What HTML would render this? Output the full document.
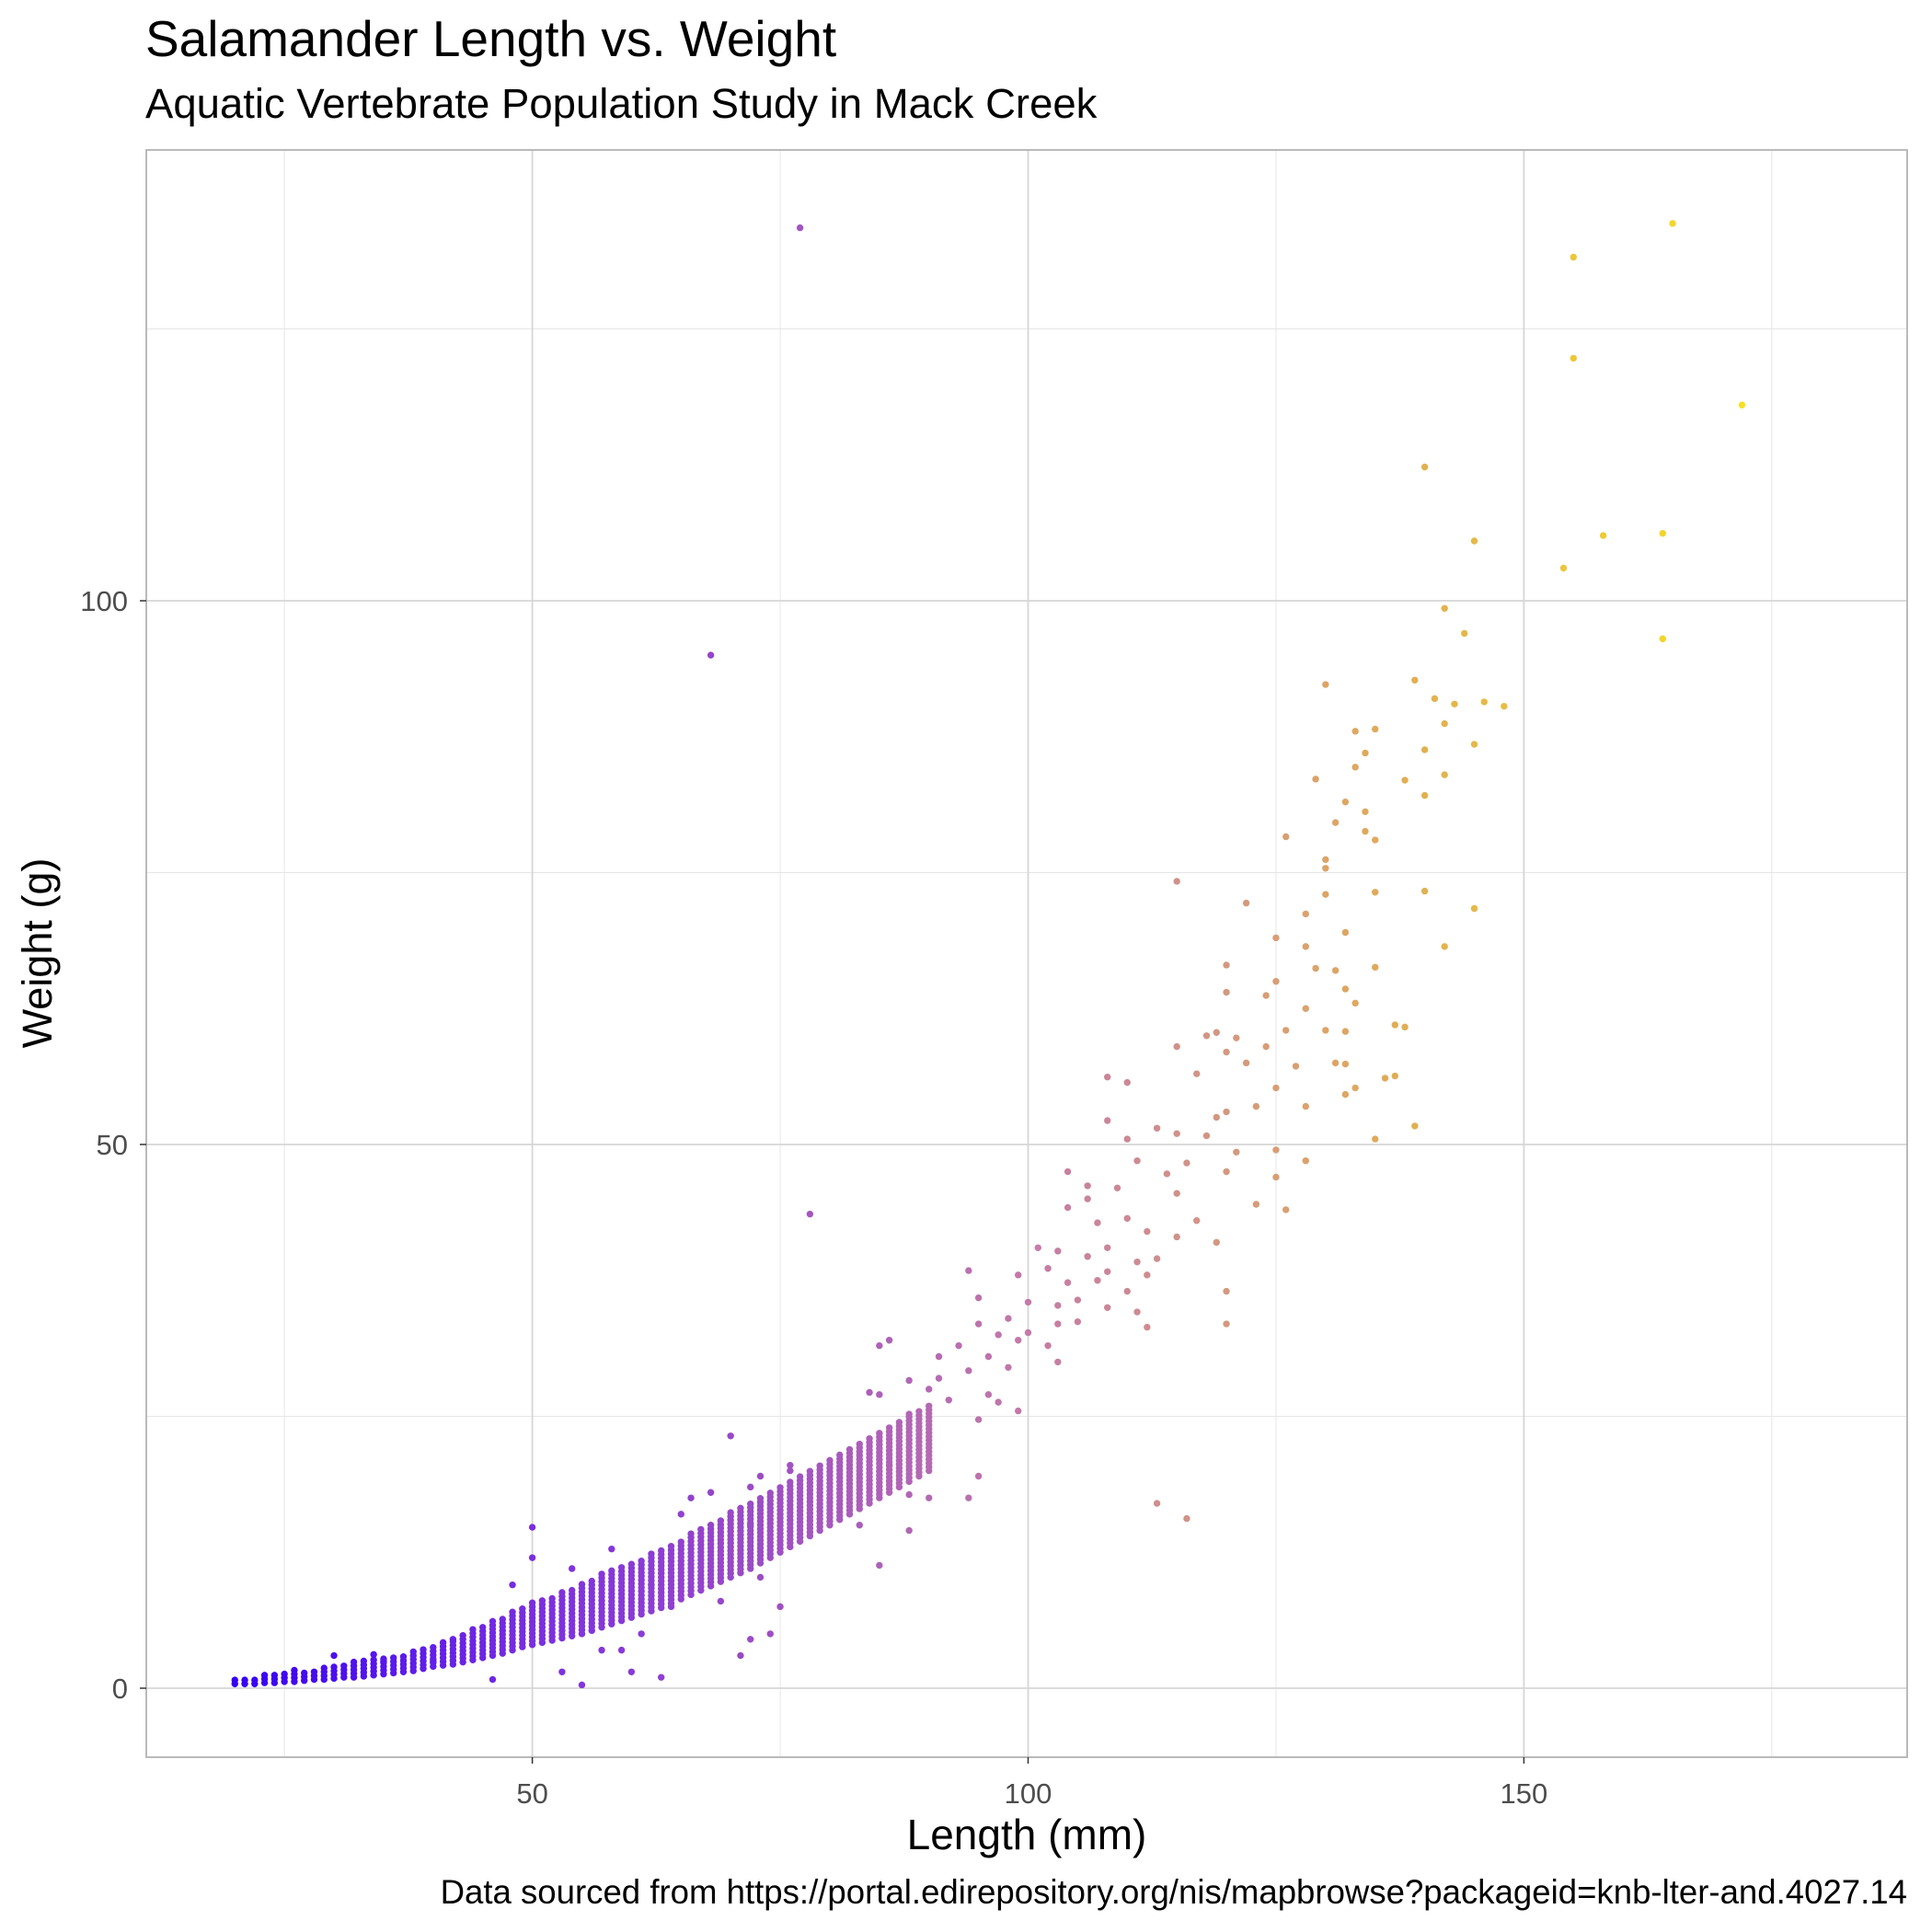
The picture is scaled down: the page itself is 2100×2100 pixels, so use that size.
<!DOCTYPE html>
<html><head><meta charset="utf-8"><style>
html,body{margin:0;padding:0;background:#fff;}
svg{display:block;font-family:"Liberation Sans",sans-serif;}
</style></head><body>
<svg id="chart" width="2100" height="2100" viewBox="0 0 2100 2100">
<text x="158" y="61" font-size="55" fill="#000">Salamander Length vs. Weight</text>
<text x="158" y="128" font-size="45.5" fill="#000">Aquatic Vertebrate Population Study in Mack Creek</text>
<g id="grid"></g>
<g id="points"></g>
<rect x="159" y="163" width="1914" height="1747" fill="none" stroke="#b3b3b3" stroke-width="1.8"/>
<g id="axes"></g>
<text x="1116" y="2010" font-size="46" text-anchor="middle" fill="#000">Length (mm)</text>
<text transform="translate(56,1036) rotate(-90)" font-size="45" text-anchor="middle" fill="#000">Weight (g)</text>
<text x="2073" y="2069" font-size="36.6" text-anchor="end" fill="#000">Data sourced from https://portal.edirepository.org/nis/mapbrowse?packageid=knb-lter-and.4027.14</text>
</svg>
<script>
const xTicks=[50,100,150];
const xMinor=[25,75,125,175];
const yTicks=[0,50,100];
const yMinor=[25,75,125];
// dense columns: length, low weight, high weight
const denseLen=[20,21,22,23,24,25,26,27,28,29,30,31,32,33,34,35,36,37,38,39,40,41,42,43,44,45,46,47,48,49,50,51,52,53,54,55,56,57,58,59,60,61,62,63,64,65,66,67,68,69,70,71,72,73,74,75,76,77,78,79,80,81,82,83,84,85,86,87,88,89,90];
const denseLo=[0.4,0.4,0.4,0.5,0.5,0.6,0.6,0.7,0.8,0.8,0.9,1,1,1.1,1.2,1.3,1.4,1.5,1.6,1.8,2,2.1,2.2,2.4,2.6,2.8,3,3.2,3.5,3.8,4,4.2,4.4,4.6,4.8,5,5.3,5.6,5.9,6.2,6.5,6.8,7.1,7.4,7.8,8.2,8.6,9,9.4,9.8,10.2,10.6,11,11.5,12,12.5,13,13.5,14,14.5,15,15.5,16,16.5,17,17.5,18,18.5,19,19.5,20];
const denseHi=[0.8,0.9,1,1.2,1.5,1.5,1.7,1.7,1.8,1.9,2,2.2,2.4,2.5,2.7,2.8,3,3.2,3.4,3.6,3.9,4.2,4.6,5,5.4,5.8,6.2,6.6,7,7.5,8,8.2,8.5,8.8,9.2,9.6,10,10.4,10.8,11.2,11.6,12,12.4,12.8,13.2,13.7,14.2,14.7,15.2,15.7,16.2,16.7,17.2,17.7,18.2,18.7,19.2,19.7,20.2,20.7,21.2,21.7,22.2,22.7,23.2,23.7,24.2,24.5,25,25.5,26];
// sparse individual points
const ptLen=[77,68,78,113,116,165,155,155,172,140,145,158,164,154,164,142,144,139,130,141,143,146,148,142,133,135,140,145,134,129,133,138,142,132,140,131,134,126,134,135,130,130,115,130,135,140,122,145,128,132,125,128,142,135,129,131,120,125,132,124,120,128,133,137,138,132,130,126,118,119,121,124,115,120,131,132,122,127,137,136,117,108,110,125,133,132,128,120,123,119,139,113,115,108,110,118,135,125,111,116,121,128,104,120,114,106,109,115,106,125,123,126,104,107,110,112,117,115,101,119,108,103,106,113,111,102,104,108,112,94,99,107,110,105,95,100,103,111,108,120,120,105,112,98,95,97,100,103,86,85,91,93,99,102,96,103,98,94,91,88,90,96,85,84,92,88,95,99,97,70,94,95,90,88,86,68,73,76,72,66,65,72,88,85,62,64,69,61,72,71,74,59,53,57,60,63,55,46,50,50,48,54,58,57,34,30,35,40,42,75,73,83,76];
const ptW=[134.3,95,43.6,17,15.6,134.7,131.6,122.3,118,112.3,105.5,106,106.2,103,96.5,99.3,97,92.7,92.3,91,90.5,90.7,90.3,88.7,88,88.2,86.3,86.8,86,83.6,84.7,83.5,84,81.5,82.1,79.6,80.6,78.3,78.8,78,76.2,75.4,74.2,73,73.2,73.3,72.2,71.7,71.2,69.5,69,68.2,68.2,66.3,66.2,66,66.5,65,64.3,63.7,64,62.5,63,61,60.8,60.4,60.5,60.5,60,60.3,59.8,59,59,58.5,57.5,57.4,57.5,57.2,56.3,56.1,56.5,56.2,55.7,55.2,55.2,54.6,53.5,53,53.5,52.5,51.7,51.5,51,52.2,50.5,50.8,50.5,49.5,48.5,48.3,49.3,48.5,47.5,47.5,47.3,46.2,46,45.5,45,47,44.5,44,44.2,42.8,43.2,42,43,41.5,40.5,41,40.5,40.2,39.7,39.5,39.2,38.6,37.3,38.3,38,38.4,38,37.5,36.5,35.7,35.9,35.5,35.2,34.6,35,36.5,33.5,33.7,33.2,34,33.5,32.5,32.7,33.5,32,31.5,30.5,31.5,32,31.5,30.5,30,29.5,29.2,28.5,28.3,27.5,27,27,27.2,26.5,25.2,24.7,25.5,26.3,23.2,17.5,19.5,17.5,17.8,20.5,18,19.5,20,18.5,17.5,16,15,14.5,11.3,9.5,7.5,8,5,4.5,3,5,3.5,1.5,3.5,1.5,1,0.3,0.8,14.8,12,9.5,11,12.8,10.5,3.1,3,2.5,2.5,4.5,7.5,10.2,15,20.5];

const NS="http://www.w3.org/2000/svg";
const X0=159,X1=2073,Y0=163,Y1=1910;
function xs(v){return 578.6+(v-50)*(1117.5-578.6)/50;}
function ys(v){return 1835-v*(1835-1244)/50;}
const stops=[[20,[52,0,245]],[50,[122,46,224]],[70,[152,72,200]],[100,[196,122,168]],[120,[212,152,128]],[140,[226,176,80]],[172,[248,224,32]]];
function col(L){
  for(let i=0;i<stops.length-1;i++){const a=stops[i],b=stops[i+1];
    if(L<=b[0]){const t=Math.max(0,(L-a[0])/(b[0]-a[0]));return 'rgb('+a[1].map((c,k)=>Math.round(c+(b[1][k]-c)*t)).join(',')+')';}}
  return 'rgb(248,224,32)';
}
function mk(tag,attrs,parent){const e=document.createElementNS(NS,tag);for(const k in attrs)e.setAttribute(k,attrs[k]);parent.appendChild(e);return e;}
const grid=document.getElementById('grid'),axes=document.getElementById('axes'),pts=document.getElementById('points');
xMinor.forEach(v=>{const l=mk('line',{x1:xs(v),x2:xs(v),y1:Y0,y2:Y1,stroke:'#e6e6e6','stroke-width':1},grid);

});
yMinor.forEach(v=>{const l=mk('line',{x1:X0,x2:X1,y1:ys(v),y2:ys(v),stroke:'#e6e6e6','stroke-width':1},grid);

});
xTicks.forEach(v=>{const l=mk('line',{x1:xs(v),x2:xs(v),y1:Y0,y2:Y1,stroke:'#d6d6d6','stroke-width':1.8},grid);


const t=mk('line',{x1:xs(v),x2:xs(v),y1:Y1,y2:Y1+7,stroke:'#333','stroke-width':1.5},axes);


const tx=mk('text',{x:xs(v),y:1960,'font-size':31,'text-anchor':'middle',fill:'#4d4d4d'},axes);tx.textContent=v;

});
yTicks.forEach(v=>{const l=mk('line',{x1:X0,x2:X1,y1:ys(v),y2:ys(v),stroke:'#d6d6d6','stroke-width':1.8},grid);


const t=mk('line',{x1:X0-7,x2:X0,y1:ys(v),y2:ys(v),stroke:'#333','stroke-width':1.5},axes);


const tx=mk('text',{x:139,y:ys(v)+11,'font-size':31,'text-anchor':'end',fill:'#4d4d4d'},axes);tx.textContent=v;

});
denseLen.forEach((L,i)=>{
  for(let w=denseLo[i];w<=denseHi[i]+0.001;w+=0.35){
    const c=mk('circle',{cx:xs(L),cy:ys(w),r:3.7,fill:col(L)},pts);
    
    
  }
});
ptLen.forEach((L,i)=>{
  const c=mk('circle',{cx:xs(L),cy:ys(ptW[i]),r:3.7,fill:col(L)},pts);
  
  
});
</script>
</body></html>
